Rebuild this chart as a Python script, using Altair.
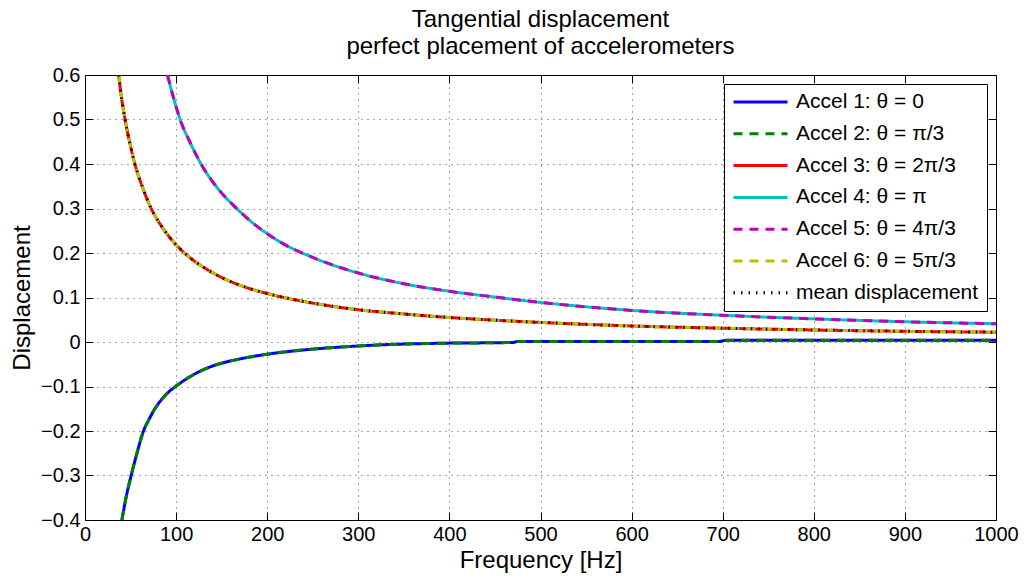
import altair as alt
import pandas as pd

# ---- data ----
# Accel 1 and Accel 2 (negative branch)
freq_neg = [40.5, 45, 50.7, 57, 64.2, 70, 77, 85, 92, 100, 112, 126,
            140, 155, 175, 200, 225, 250, 300, 330, 385, 470, 475, 695, 705, 800, 900, 1000]
disp_neg = [-0.40, -0.35, -0.30, -0.25, -0.20, -0.175, -0.149, -0.127, -0.112, -0.099,
            -0.082, -0.066, -0.054, -0.045, -0.036, -0.0275, -0.021, -0.016, -0.009,
            -0.006, -0.003, -0.001, 0.001, 0.001, 0.004, 0.004, 0.004, 0.004]

# Accel 3, Accel 6 and mean displacement (middle branch)
freq_mid = [37, 40, 42.3, 46, 50, 53.2, 58, 64, 71.5, 80, 90, 104, 115, 130, 150, 181,
            200, 230, 260, 300, 350, 400, 450, 500, 600, 700, 800, 900, 1000]
disp_mid = [0.60, 0.55, 0.52, 0.478, 0.44, 0.412, 0.378, 0.343, 0.305, 0.273, 0.243, 0.21,
            0.19, 0.168, 0.145, 0.12, 0.109, 0.095, 0.084, 0.0725, 0.063, 0.055, 0.049,
            0.044, 0.036, 0.031, 0.027, 0.024, 0.022]

# Accel 4 and Accel 5 (upper branch)
freq_hi = [90.5, 97, 104.4, 115, 128, 145, 166, 181, 214, 250, 300, 350, 400, 450, 500,
           600, 700, 800, 900, 1000]
disp_hi = [0.60, 0.55, 0.50, 0.45, 0.398, 0.347, 0.301, 0.273, 0.225, 0.19, 0.155, 0.131,
           0.114, 0.101, 0.089, 0.071, 0.060, 0.052, 0.0455, 0.041]

series_names = ["Accel 1: θ = 0", "Accel 2: θ = π/3", "Accel 3: θ = 2π/3",
                "Accel 4: θ = π", "Accel 5: θ = 4π/3", "Accel 6: θ = 5π/3",
                "mean displacement"]
series_colors = ["#0000ff", "#008000", "#ff0000", "#00bfbf", "#bf00bf", "#bfbf00", "#000000"]
series_dash = [[1, 0], [9, 7], [1, 0], [1, 0], [9, 7], [9, 7], [1.5, 6]]
series_width = [3, 3, 3, 3, 3, 3, 1]
series_source = [(freq_neg, disp_neg), (freq_neg, disp_neg), (freq_mid, disp_mid),
                 (freq_hi, disp_hi), (freq_hi, disp_hi), (freq_mid, disp_mid),
                 (freq_mid, disp_mid)]

x_ticks = [0, 100, 200, 300, 400, 500, 600, 700, 800, 900, 1000]
y_ticks = [-0.4, -0.3, -0.2, -0.1, 0, 0.1, 0.2, 0.3, 0.4, 0.5, 0.6]

rows = []
for name, (fs, vs) in zip(series_names, series_source):
    for i, (f, v) in enumerate(zip(fs, vs)):
        rows.append({"series": name, "f": f, "v": v, "i": i})
df = pd.DataFrame(rows)

FONT = "Liberation Sans"
xscale = alt.Scale(domain=[0, 1000], nice=False, zero=False)
yscale = alt.Scale(domain=[-0.4, 0.6], nice=False, zero=False)

lines = alt.Chart(df).mark_line(clip=True, interpolate="monotone").encode(
    x=alt.X("f:Q", scale=xscale,
            axis=alt.Axis(title="Frequency [Hz]", values=x_ticks, format="d",
                          orient="bottom", offset=-8, tickSize=8, domain=False,
                          labelFlush=False, labelPadding=4, titlePadding=4)),
    y=alt.Y("v:Q", scale=yscale,
            axis=alt.Axis(title="Displacement", values=y_ticks, format="~g",
                          orient="left", offset=-8, tickSize=8, domain=False,
                          labelFlush=False, labelPadding=5, titlePadding=6)),
    color=alt.Color("series:N",
                    scale=alt.Scale(domain=series_names, range=series_colors),
                    legend=alt.Legend(title=None, orient="top-right", offset=9,
                                      symbolType="stroke", symbolSize=2916,
                                      clipHeight=20, rowPadding=10.8,
                                      labelFontSize=21, labelFont=FONT,
                                      labelColor="black", labelOffset=7,
                                      labelLimit=400, padding=8,
                                      fillColor="white", strokeColor="black")),
    strokeDash=alt.StrokeDash("series:N",
                              scale=alt.Scale(domain=series_names, range=series_dash)),
    strokeWidth=alt.StrokeWidth("series:O",
                                scale=alt.Scale(domain=series_names, range=series_width)),
    order="i:Q",
)

mirror = alt.Chart(df).mark_line(opacity=0).encode(
    x=alt.X("f:Q", scale=xscale,
            axis=alt.Axis(title="", values=x_ticks, orient="top", labels=False,
                          grid=False, domain=False, offset=-8, tickSize=8)),
    y=alt.Y("v:Q", scale=yscale,
            axis=alt.Axis(title="", values=y_ticks, orient="right", labels=False,
                          grid=False, domain=False, offset=-8, tickSize=8)),
    detail="series:N",
)

chart = alt.layer(lines, mirror).resolve_axis(x="independent", y="independent").properties(
    width=911, height=445,
    background="white",
    autosize=alt.AutoSizeParams(type="none"),
    padding={"left": 85, "top": 75, "right": 28, "bottom": 60},
    title=alt.TitleParams(text=["Tangential displacement", "perfect placement of accelerometers"],
                          fontSize=24, font=FONT, fontWeight="normal", color="black",
                          anchor="middle", lineHeight=27, offset=6),
).configure_view(stroke="black", strokeWidth=1).configure_axis(
    labelFont=FONT, labelFontSize=20, labelColor="black",
    titleFont=FONT, titleFontSize=24, titleFontWeight="normal", titleColor="black",
    tickColor="black", tickWidth=1, grid=True, gridColor="black", gridDash=[1, 5],
    gridOpacity=0.7, gridWidth=1,
)

chart.save("out.html", embed_options={"renderer": "svg", "actions": False})
